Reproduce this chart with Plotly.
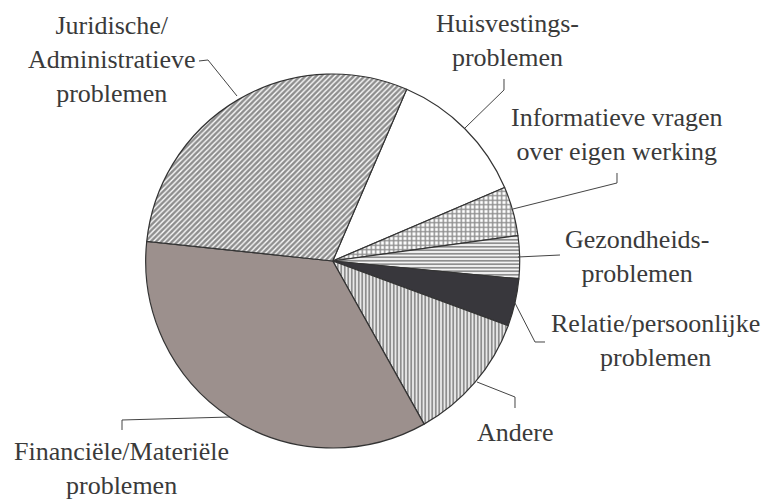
import plotly.graph_objects as go

W, H = 766, 502

categories = ["Huisvestingsproblemen", "Informatieve vragen over eigen werking",
              "Gezondheidsproblemen", "Relatie/persoonlijke problemen", "Andere",
              "Financiële/Materiële problemen", "Juridische/Administratieve problemen"]
values = [12.1, 4.25, 3.7, 4.1, 11.25, 34.8, 29.8]
label_texts = ["Huisvestings-<br>problemen", "Informatieve vragen<br>over eigen werking",
               "Gezondheids-<br>problemen", "Relatie/persoonlijke<br>problemen", "Andere",
               "Financiële/Materiële<br>problemen", "Juridische/<br>Administratieve<br>problemen"]
fill_colors = ["#ffffff", "#ffffff", "#ffffff", "#38373c", "#ffffff", "#9c908d", "#ffffff"]
pattern_shapes = ["", "+", "-", "", "|", "", "/"]
pattern_sizes = [8, 4.5, 3.5, 8, 3.5, 8, 3.8]
pattern_solidity = [0.3, 0.55, 0.55, 0.3, 0.6, 0.3, 0.65]

# pixel helpers (layout only)
def px(x):
    return x / W

def py(y):
    return 1 - y / H

cx, cy, r = 332.7, 261, 187

fig = go.Figure(go.Pie(
    labels=categories, values=values, sort=False, direction="clockwise",
    rotation=23.3, textinfo="none", hoverinfo="label+percent",
    marker=dict(colors=fill_colors,
                line=dict(color="#333333", width=1.2),
                pattern=dict(shape=pattern_shapes, fgcolor="#1e1e1e",
                             bgcolor="#ffffff", size=pattern_sizes,
                             solidity=pattern_solidity, fillmode="overlay")),
    domain=dict(x=[px(cx - r), px(cx + r)], y=[py(cy + r), py(cy - r)]),
    showlegend=False,
))

label_pos = [(507, 40), (617, 134), (637, 256), (655, 340), (515, 432), (121, 468), (112, 59)]
for txt, (x, y) in zip(label_texts, label_pos):
    fig.add_annotation(x=px(x), y=py(y), xref="paper", yref="paper", text=txt,
                       showarrow=False, xanchor="center", yanchor="middle",
                       font=dict(family="Liberation Serif, Times New Roman, serif",
                                 size=26, color="#3a3a3a"))

leaders = [
    [(504, 79), (504, 90), (465, 128)],
    [(617, 173), (617, 183), (513, 209)],
    [(518, 257), (560, 255)],
    [(515, 303), (535, 342), (545, 342)],
    [(477, 382), (515, 397), (515, 408)],
    [(122, 430), (122, 420), (230, 417)],
    [(199, 61), (208, 60), (237, 96)],
]
for pts in leaders:
    path = "M " + " L ".join(f"{px(a):.5f},{py(b):.5f}" for a, b in pts)
    fig.add_shape(type="path", path=path, xref="paper", yref="paper",
                  line=dict(color="#444444", width=1))

fig.update_layout(width=W, height=H, margin=dict(l=0, r=0, t=0, b=0),
                  paper_bgcolor="white", plot_bgcolor="white")
fig.write_html("out.html", config={"displayModeBar": False},
               post_script="document.body.style.margin='0px';document.body.style.overflow='hidden';")
